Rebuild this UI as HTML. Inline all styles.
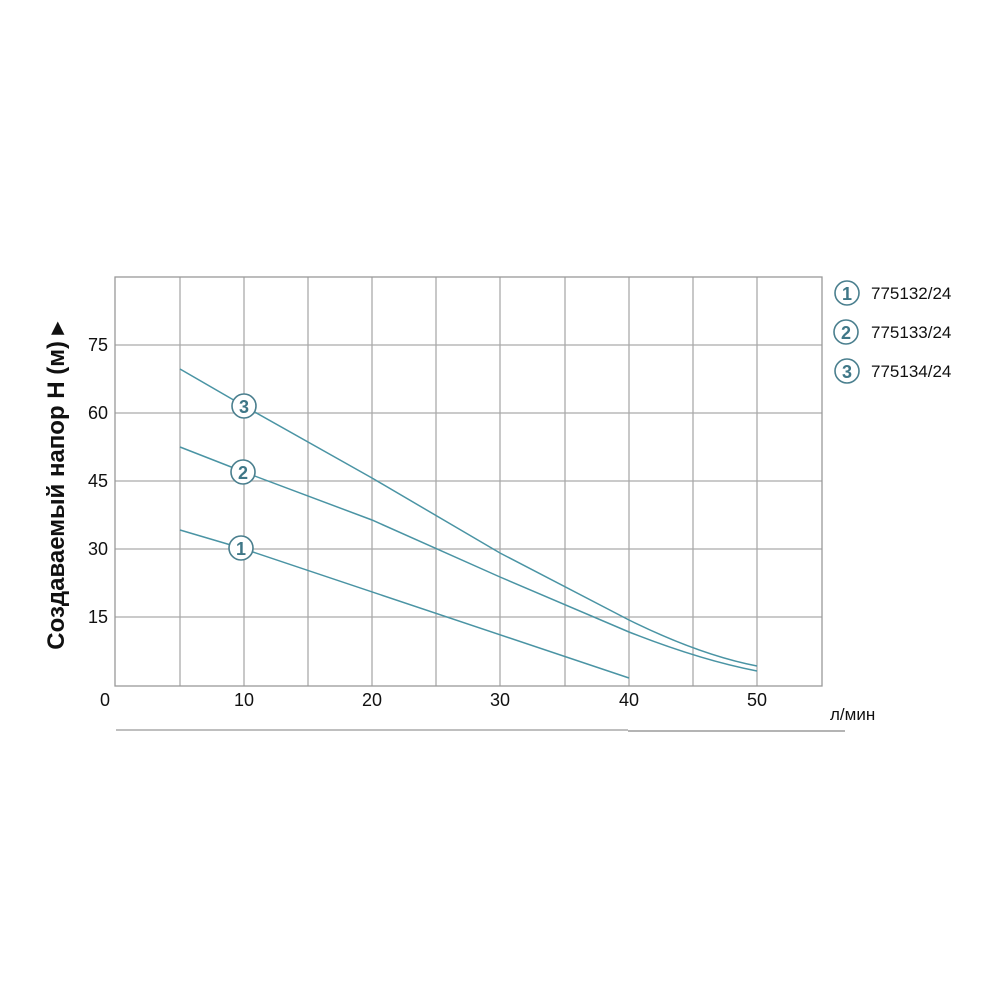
<!DOCTYPE html>
<html><head><meta charset="utf-8"><style>body{margin:0;background:#fff}svg{display:block}</style></head>
<body>
<svg width="1000" height="1000" viewBox="0 0 1000 1000" font-family="Liberation Sans, Arial, sans-serif">
<rect width="1000" height="1000" fill="#fff"/>
<g stroke="#aaa" stroke-width="1.3" fill="none">
<line x1="180" y1="277" x2="180" y2="686"/><line x1="244" y1="277" x2="244" y2="686"/>
<line x1="308" y1="277" x2="308" y2="686"/><line x1="372" y1="277" x2="372" y2="686"/>
<line x1="436" y1="277" x2="436" y2="686"/><line x1="500" y1="277" x2="500" y2="686"/>
<line x1="565" y1="277" x2="565" y2="686"/><line x1="629" y1="277" x2="629" y2="686"/>
<line x1="693" y1="277" x2="693" y2="686"/><line x1="757" y1="277" x2="757" y2="686"/>
<line x1="115" y1="345" x2="822" y2="345"/><line x1="115" y1="413" x2="822" y2="413"/>
<line x1="115" y1="481" x2="822" y2="481"/><line x1="115" y1="549" x2="822" y2="549"/>
<line x1="115" y1="617" x2="822" y2="617"/>
<rect x="115" y="277" width="707" height="409" stroke="#999"/>
<line x1="116" y1="730" x2="628" y2="730" stroke-width="1.5"/>
<line x1="628" y1="731" x2="845" y2="731" stroke="#888" stroke-width="1.2"/>
</g>
<g stroke="#4a94a4" stroke-width="1.5" fill="none">
<path d="M180,369 L244,406 L372,478 L500,553 L629,620 Q700,655 757,666"/>
<path d="M180,447 L244,472 L372,520 L500,577 L629,632 Q700,660 757,671"/>
<path d="M180,530 L241,548 L629,678"/>
</g>
<g fill="#fff" stroke="#4a7f8e" stroke-width="1.6">
<circle cx="244" cy="406" r="12"/><circle cx="243" cy="472" r="12"/><circle cx="241" cy="548" r="12"/>
<circle cx="847" cy="293" r="12"/><circle cx="846" cy="332" r="12"/><circle cx="847" cy="371" r="12"/>
</g>
<g fill="#3f7787" font-weight="bold" font-size="18" text-anchor="middle">
<text x="244" y="413">3</text><text x="243" y="479">2</text><text x="241" y="555">1</text>
<text x="847" y="300">1</text><text x="846" y="339">2</text><text x="847" y="378">3</text>
</g>
<g fill="#111" font-size="17">
<text x="871" y="299">775132/24</text><text x="871" y="338">775133/24</text><text x="871" y="377">775134/24</text>
</g>
<g fill="#111" font-size="18" text-anchor="end">
<text x="108" y="351">75</text><text x="108" y="419">60</text><text x="108" y="487">45</text>
<text x="108" y="555">30</text><text x="108" y="623">15</text>
</g>
<g fill="#111" font-size="18" text-anchor="middle">
<text x="105" y="706">0</text><text x="244" y="706">10</text><text x="372" y="706">20</text>
<text x="500" y="706">30</text><text x="629" y="706">40</text><text x="757" y="706">50</text>
</g>
<text x="830" y="720" font-size="17" fill="#111">л/мин</text>
<text transform="translate(64,486) rotate(-90)" text-anchor="middle" font-size="24" font-weight="bold" fill="#111">Создаваемый напор Н (м) ▸</text>
</svg>
</body></html>
